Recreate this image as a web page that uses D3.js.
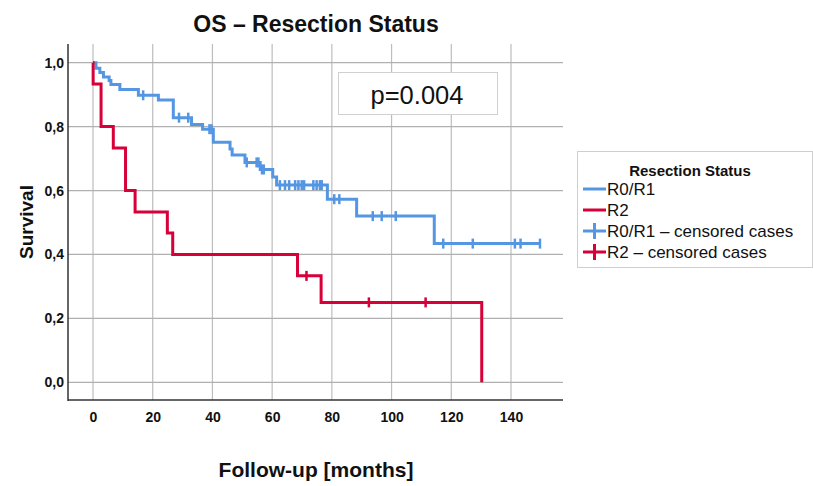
<!DOCTYPE html>
<html><head><meta charset="utf-8">
<script src="https://cdn.jsdelivr.net/npm/d3@7"></script>
<style>
body{margin:0;background:#fff;}
svg{display:block;}
</style></head>
<body>
<svg id="chart" width="813" height="486"></svg>
<script>
// ---- data ----
const title = "OS – Resection Status";
const xTitle = "Follow-up [months]";
const yTitle = "Survival";
const legendTitle = "Resection Status";
const seriesNames = ["R0/R1", "R2"];
const xTicks = [0, 20, 40, 60, 80, 100, 120, 140];
const yTicks = [0.0, 0.2, 0.4, 0.6, 0.8, 1.0];
const pText = "p=0.004";

// Kaplan-Meier steps: [time, survival after step]
const r01Steps = [[0,1.0],[1.0,0.983],[2.3,0.969],[3.5,0.955],[5.4,0.944],[6.0,0.932],[9.0,0.916],
  [15.2,0.898],[21.9,0.883],[26.9,0.828],[33.0,0.807],[36.7,0.792],[40.3,0.751],[45.9,0.730],
  [46.6,0.711],[50.9,0.688],[56.0,0.666],[60.2,0.642],[61.5,0.617],[78.5,0.573],[88.3,0.520],
  [114.3,0.434],[150.0,0.434]];
const r01Censored = [16.8,28.8,31.9,39.0,39.7,51.5,54.8,55.4,56.6,57.2,62.6,64.3,65.7,67.7,68.8,
  69.9,70.7,73.8,74.9,76.0,76.6,80.8,82.5,93.7,96.7,101.4,117.3,127.2,141.3,143.2,149.7];
const r2Steps = [[0,1.0],[0.05,0.933],[2.7,0.8],[6.8,0.733],[10.9,0.6],[14.1,0.533],[24.9,0.467],
  [26.7,0.4],[68.5,0.333],[76.4,0.25],[130.2,0.0]];
const r2Censored = [71.5,92.4,111.4];

const colors = ["#5596E3", "#D70039"];

// ---- layout ----
const svg = d3.select("#chart");
const plot = {left:68, right:563, top:44, bottom:400};
const x = d3.scaleLinear().domain([0,140]).range([93,511]);
const y = d3.scaleLinear().domain([0,1]).range([382.3,62.7]);
const font = "'Liberation Sans', Arial, sans-serif";
const narrow = "'Liberation Sans Narrow', 'Arial Narrow', 'Liberation Sans', Arial, sans-serif";

// gridlines
svg.append("g").selectAll("line").data(xTicks).join("line")
  .attr("x1", d=>x(d)).attr("x2", d=>x(d)).attr("y1", plot.top).attr("y2", plot.bottom)
  .attr("stroke", "#bdbdbd").attr("stroke-width", 1.2);
svg.append("g").selectAll("line").data(yTicks).join("line")
  .attr("x1", plot.left).attr("x2", plot.right).attr("y1", d=>y(d)).attr("y2", d=>y(d))
  .attr("stroke", "#b0b0b0").attr("stroke-width", 1.2);

// axes
const xAxis = d3.axisBottom(x).tickValues(xTicks).tickSize(0).tickPadding(12).tickFormat(d3.format("d"));
const gx = svg.append("g").attr("transform", `translate(0,${plot.bottom})`).call(xAxis);
gx.select(".domain").remove();
gx.selectAll("text").attr("font-family", narrow).attr("font-weight", "bold").attr("font-size", 14).attr("fill", "#111");
const yAxis = d3.axisLeft(y).tickValues(yTicks).tickSize(0).tickPadding(4).tickFormat(d => d3.format(".1f")(d).replace(".", ","));
const gy = svg.append("g").attr("transform", `translate(${plot.left},0)`).call(yAxis);
gy.select(".domain").remove();
gy.selectAll("text").attr("font-family", narrow).attr("font-weight", "bold").attr("font-size", 14).attr("fill", "#111");
svg.append("line").attr("x1", plot.left).attr("x2", plot.left).attr("y1", plot.top).attr("y2", plot.bottom+1)
  .attr("stroke", "#333").attr("stroke-width", 1.5);
svg.append("line").attr("x1", plot.left).attr("x2", plot.right).attr("y1", plot.bottom).attr("y2", plot.bottom)
  .attr("stroke", "#333").attr("stroke-width", 1.5);

// curves
const line = d3.line().x(d=>x(d[0])).y(d=>y(d[1])).curve(d3.curveStepAfter);
function stepValue(steps, t){ let v = steps[0][1]; for (const s of steps){ if (s[0] <= t) v = s[1]; } return v; }
[[r01Steps, r01Censored, colors[0]], [r2Steps, r2Censored, colors[1]]].forEach(([steps, cens, col]) => {
  svg.append("path").datum(steps).attr("d", line).attr("fill", "none")
    .attr("stroke", col).attr("stroke-width", 3).attr("stroke-linejoin", "miter");
  svg.append("g").selectAll("line").data(cens).join("line")
    .attr("x1", d=>x(d)).attr("x2", d=>x(d))
    .attr("y1", d=>y(stepValue(steps, d))-5).attr("y2", d=>y(stepValue(steps, d))+5)
    .attr("stroke", col).attr("stroke-width", 2.5);
});

// p-value box
svg.append("rect").attr("x", 338.5).attr("y", 72.5).attr("width", 159).attr("height", 42)
  .attr("fill", "#fff").attr("stroke", "#d0d0d0").attr("stroke-width", 1);
svg.append("text").attr("x", 417).attr("y", 104).attr("text-anchor", "middle")
  .attr("font-family", font).attr("font-size", 25.5).attr("fill", "#111").text(pText);

// titles
svg.append("text").attr("x", 316).attr("y", 32).attr("text-anchor", "middle")
  .attr("font-family", font).attr("font-weight", "bold").attr("font-size", 23).attr("fill", "#111").text(title);
svg.append("text").attr("x", 316).attr("y", 477).attr("text-anchor", "middle")
  .attr("font-family", narrow).attr("font-weight", "bold").attr("font-size", 21).attr("fill", "#111").text(xTitle);
svg.append("text").attr("transform", "translate(33,222) rotate(-90)").attr("text-anchor", "middle")
  .attr("font-family", font).attr("font-weight", "bold").attr("font-size", 19).attr("fill", "#111").text(yTitle);

// legend
const lg = svg.append("g");
lg.append("rect").attr("x", 577.5).attr("y", 151.5).attr("width", 235).attr("height", 116)
  .attr("fill", "#fff").attr("stroke", "#cfcfcf").attr("stroke-width", 1);
lg.append("text").attr("x", 690).attr("y", 176).attr("text-anchor", "middle")
  .attr("font-family", font).attr("font-weight", "bold").attr("font-size", 15).attr("fill", "#111").text(legendTitle);
const legendItems = [
  {label: seriesNames[0], color: colors[0], cens: false},
  {label: seriesNames[1], color: colors[1], cens: false},
  {label: seriesNames[0] + " – censored cases", color: colors[0], cens: true},
  {label: seriesNames[1] + " – censored cases", color: colors[1], cens: true}
];
const itemY = d3.scalePoint().domain(d3.range(legendItems.length)).range([189, 252]);
legendItems.forEach((it, i) => {
  const cy = itemY(i);
  lg.append("line").attr("x1", 583).attr("x2", 606).attr("y1", cy).attr("y2", cy)
    .attr("stroke", it.color).attr("stroke-width", 3);
  if (it.cens) lg.append("line").attr("x1", 594.5).attr("x2", 594.5).attr("y1", cy-8).attr("y2", cy+8)
    .attr("stroke", it.color).attr("stroke-width", 3);
  lg.append("text").attr("x", 607).attr("y", cy+6)
    .attr("font-family", font).attr("font-size", 17).attr("fill", "#111").text(it.label);
});
</script>
</body></html>
